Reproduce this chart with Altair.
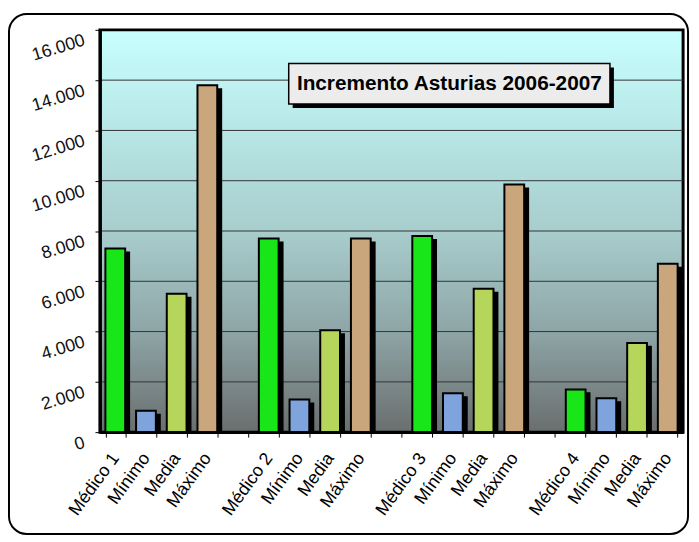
import altair as alt
import pandas as pd

# ---- data ----
slot_labels = ["Médico 1", "Mínimo", "Media", "Máximo", "",
               "Médico 2", "Mínimo", "Media", "Máximo", "",
               "Médico 3", "Mínimo", "Media", "Máximo", "",
               "Médico 4", "Mínimo", "Media", "Máximo"]
series_names = ["Médico", "Mínimo", "Media", "Máximo"]
medico = [7300, 7700, 7800, 1700]
minimo = [850, 1300, 1550, 1350]
media = [5500, 4050, 5700, 3550]
maximo = [13800, 7700, 9850, 6700]
y_ticks = [0, 2000, 4000, 6000, 8000, 10000, 12000, 14000, 16000]
grid_vals = [2000, 4000, 6000, 8000, 10000, 12000, 14000]
series_colors = ["#19e619", "#7fa3dc", "#b5d65a", "#c9a67c"]
title_text = "Incremento Asturias 2006-2007"

rows = []
for g in range(4):
    for s, vals in enumerate([medico, minimo, media, maximo]):
        rows.append({"slot": g * 5 + s, "series": series_names[s], "value": vals[g]})
df = pd.DataFrame(rows)

W, H = 590, 407
label_js = "[" + ",".join("'" + l + "'" for l in slot_labels) + "]"

xscale = alt.Scale(domain=list(range(len(slot_labels))), paddingInner=0.356, paddingOuter=0.178)
yscale = alt.Scale(domain=[0, 16000])

xaxis = alt.Axis(labelExpr=label_js + "[datum.value]", labelAngle=-54,
                 labelFontSize=18, labelFont="Liberation Sans", labelColor="#000",
                 labelPadding=18, tickBand="extent", tickSize=5, tickColor="#000",
                 domainColor="#000", domainWidth=3, grid=False, zindex=1)
yaxis = alt.Axis(values=y_ticks, format=",.0f",
                 labelAngle=-17, labelFontSize=18, labelFont="Liberation Sans",
                 labelColor="#111", labelOffset=10, labelPadding=11, tickSize=5,
                 tickColor="#000", domainColor="#000", domainWidth=3, grid=False,
                 zindex=1)

xenc = alt.X("slot:O", scale=xscale, title=None, axis=xaxis)
yenc = alt.Y("value:Q", scale=yscale, title=None, axis=yaxis)

one = pd.DataFrame({"a": [0]})

bg = alt.Chart(one).mark_rect(
    color=alt.LinearGradient(gradient="linear", x1=0, y1=0, x2=0, y2=1, stops=[
        alt.GradientStop(offset=0, color="#c8ffff"),
        alt.GradientStop(offset=0.5, color="#a8cdcd"),
        alt.GradientStop(offset=0.75, color="#8ea5a6"),
        alt.GradientStop(offset=1, color="#6a6e6e")]),
    stroke="black", strokeWidth=3
).encode(x=alt.value(0), x2=alt.value(W), y=alt.value(0), y2=alt.value(H))

grid = alt.Chart(pd.DataFrame({"value": grid_vals})).mark_rule(color="#333", strokeWidth=1).encode(
    y=yenc)

shadow = alt.Chart(df).mark_bar(color="black", xOffset=5, yOffset=3, clip=True).encode(
    x=xenc, y=yenc)

bars = alt.Chart(df).mark_bar(stroke="black", strokeWidth=2).encode(
    x=xenc, y=yenc,
    color=alt.Color("series:N", scale=alt.Scale(domain=series_names, range=series_colors), legend=None))

tshadow = alt.Chart(one).mark_rect(color="black").encode(
    x=alt.value(195), x2=alt.value(520), y=alt.value(38), y2=alt.value(79))
tbox = alt.Chart(one).mark_rect(fill="#ececec", stroke="black", strokeWidth=1.5).encode(
    x=alt.value(191), x2=alt.value(516), y=alt.value(34), y2=alt.value(75))
ttext = alt.Chart(one).mark_text(text=title_text, font="Liberation Sans", fontSize=21,
                                 fontWeight="bold", color="black", align="center",
                                 baseline="middle").encode(x=alt.value(353.5), y=alt.value(55))

border = alt.Chart(one).mark_rect(fillOpacity=0, stroke="black", strokeWidth=2, cornerRadius=18).encode(
    x=alt.value(-92), x2=alt.value(595), y=alt.value(-16), y2=alt.value(510))

chart = alt.layer(bg, grid, shadow, bars, tshadow, tbox, ttext, border).properties(
    width=W, height=H,
    autosize=alt.AutoSizeParams(type="none"),
    padding={"left": 93, "top": 19, "right": 8, "bottom": 106}
).configure_view(stroke=None).configure(
    background="white",
    locale={"number": {"decimal": ",", "thousands": ".", "grouping": [3], "currency": ["", " €"]}}
)

chart.save("out.html", embed_options={"renderer": "svg", "actions": False})
